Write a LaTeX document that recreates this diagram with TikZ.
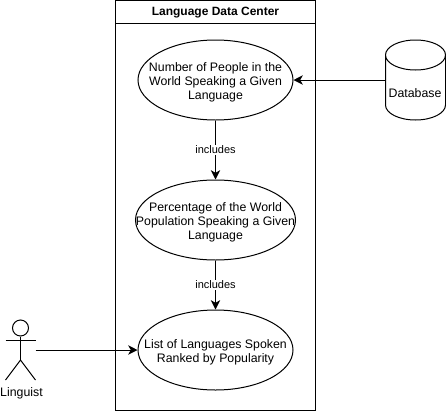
\documentclass[tikz,border=0pt]{standalone}
\usepackage{fontspec}
\setmainfont{Liberation Sans}
\usetikzlibrary{arrows.meta,shapes.geometric}
\tikzset{
  usecase/.style={draw,ellipse,line width=0.75pt,minimum width=116.25pt,minimum height=60pt,inner sep=0pt},
  uctext/.style={align=center,inner sep=0pt,font=\fontsize{9.25}{10.5}\selectfont},
  conn/.style={line width=0.75pt,-{Stealth[length=7pt,width=7pt,inset=2pt]}},
  lbl/.style={fill=white,inner sep=1pt,font=\fontsize{8.25}{10}\selectfont},
  shapeline/.style={line width=0.75pt}
}
\begin{document}
\begin{tikzpicture}[x=0.75pt,y=-0.75pt]
\useasboundingbox (0,0) rectangle (446,411);
\fill[white] (0,0) rectangle (446,411);
% container
\node[draw,line width=0.75pt,minimum width=150pt,minimum height=307.5pt,inner sep=0pt] (lane) at (215.5,205.5) {};
\coordinate (hl) at (115.5,23.5);
\coordinate (hr) at (315.5,23.5);
\draw[shapeline] (hl) -- (hr);
\node[font=\bfseries\fontsize{9}{11}\selectfont] (title) at (215.5,12.5) {Language Data Center};
% use cases
\node[usecase] (u1) at (215.5,80) {};
\node[uctext] (t1) at (215.5,82) {Number of People in the\\World Speaking a Given\\Language};
\node[usecase,minimum width=120pt] (u2) at (215.5,220) {};
\node[uctext] (t2) at (215.5,222) {Percentage of the World\\Population Speaking a Given\\Language};
\node[usecase] (u3) at (215.5,350) {};
\node[uctext] (t3) at (215.5,352) {List of Languages Spoken\\Ranked by Popularity};
% database
\node[minimum width=45pt,minimum height=60pt,inner sep=0pt] (db) at (415.5,80) {};
\draw[shapeline] (385.5,55) arc[x radius=30,y radius=15,start angle=180,end angle=0]
  -- (445.5,105) arc[x radius=30,y radius=15,start angle=0,end angle=180] -- cycle;
\draw[shapeline] (385.5,55) arc[x radius=30,y radius=15,start angle=180,end angle=360];
\node[font=\fontsize{9.25}{11}\selectfont] (dbl) at (415,93.5) {Database};
% actor
\node[draw,circle,line width=0.75pt,minimum size=12pt,inner sep=0pt] (head) at (20.5,328) {};
\coordinate (hip) at (20.5,360);
\coordinate (al) at (5.5,340);
\coordinate (ar) at (35.5,340);
\coordinate (fl) at (5.5,380);
\coordinate (fr) at (35.5,380);
\coordinate (act) at (35.5,350);
\draw[shapeline] (head.south) -- (hip);
\draw[shapeline] (al) -- (ar);
\draw[shapeline] (fl) -- (hip) -- (fr);
\node[font=\fontsize{9.25}{11}\selectfont] (ling) at (21.5,393.5) {Linguist};
% connectors
\draw[conn] (u1) -- node[lbl] (i1) {includes} (u2);
\draw[conn] (u2) -- node[lbl] (i2) {includes} (u3);
\draw[conn] (db.west) -- (u1.east);
\draw[conn] (act) -- (u3.west);
\end{tikzpicture}
\end{document}
